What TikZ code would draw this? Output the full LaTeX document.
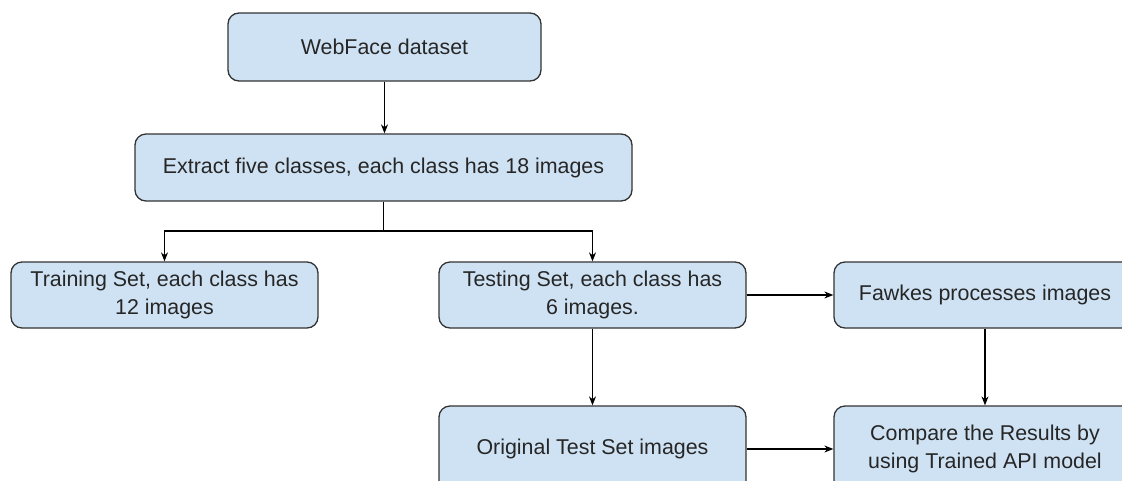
\documentclass[tikz,border=0pt]{standalone}
\usepackage{fontspec}
\setmainfont{Liberation Sans}
\usetikzlibrary{arrows.meta}
\definecolor{boxfill}{HTML}{CFE2F3}
\definecolor{boxline}{HTML}{333333}
\begin{document}
\begin{tikzpicture}[x=1pt,y=-1pt,
  box/.style={draw=boxline, fill=boxfill, rounded corners=11pt, line width=1.3pt,
    align=center, inner sep=0pt, text=black!85, font=\fontsize{21.4}{28}\selectfont},
  arr/.style={-{Stealth[length=9pt,width=7pt]}, line width=1.1pt, draw=black}]
\useasboundingbox (0,0) rectangle (1122,480);
\clip (0,0) rectangle (1122,480);
\node[box, minimum width=313pt, minimum height=68pt] (web) at (384.5,47) {WebFace dataset};
\node[box, minimum width=497pt, minimum height=67pt] (ext) at (383.5,167.5) {Extract five classes, each class has 18 images};
\node[box, minimum width=307pt, minimum height=66pt] (train) at (164.5,295) {Training Set, each class has\\12 images};
\node[box, minimum width=307pt, minimum height=66pt] (test) at (592.5,295) {Testing Set, each class has\\6 images.};
\node[box, minimum width=302pt, minimum height=66pt] (fawkes) at (985,295) {Fawkes processes images};
\node[box, minimum width=307pt, minimum height=86pt] (orig) at (592.5,449) {Original Test Set images};
\node[box, minimum width=302pt, minimum height=86pt] (comp) at (985,449) {Compare the Results by\\using Trained API model};
\coordinate (split) at (383.5,231);
\draw[arr] (web.south) -- (web.south |- ext.north);
\draw[line width=1.1pt] (ext.south) -- (split);
\draw[arr] (split) -| (train.north);
\draw[arr] (split) -| (test.north);
\draw[arr] (test) -- (fawkes);
\draw[arr] (test) -- (orig);
\draw[arr] (fawkes) -- (comp);
\draw[arr] (orig) -- (comp);
\end{tikzpicture}
\end{document}
